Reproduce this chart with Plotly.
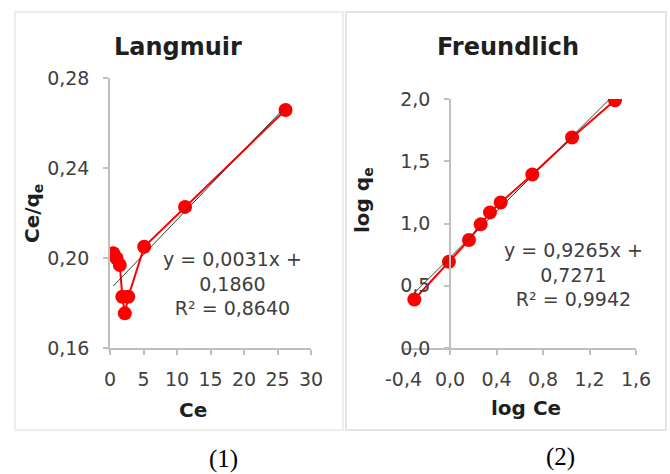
import plotly.graph_objects as go

# ---- data ----
lang_ce = [0.49, 0.98, 1.46, 1.84, 2.21, 2.73, 5.1, 11.2, 26.2]
lang_ce_qe = [0.2021, 0.1999, 0.1969, 0.1828, 0.1754, 0.1828, 0.2050, 0.2227, 0.2658]
lang_slope, lang_intercept = 0.0031, 0.1860

freu_logce = [-0.307, -0.009, 0.163, 0.264, 0.344, 0.436, 0.708, 1.05, 1.419]
freu_logqe = [0.39, 0.693, 0.867, 0.993, 1.089, 1.169, 1.394, 1.691, 1.99]
freu_slope, freu_intercept = 0.9265, 0.7271

lang_xticks = [0, 5, 10, 15, 20, 25, 30]
lang_xtext = ["0", "5", "10", "15", "20", "25", "30"]
lang_yticks = [0.16, 0.20, 0.24, 0.28]
lang_ytext = ["0,16", "0,20", "0,24", "0,28"]
freu_xticks = [-0.4, 0.0, 0.4, 0.8, 1.2, 1.6]
freu_xtext = ["-0,4", "0,0", "0,4", "0,8", "1,2", "1,6"]
freu_yticks = [0.0, 0.5, 1.0, 1.5, 2.0]
freu_ytext = ["0,0", "0,5", "1,0", "1,5", "2,0"]

W, H = 670, 474
def px(x):
    return x / W
def py(y):
    return 1 - y / H

RED = "#ff0000"
TREND = "#3a3a3a"
AX = "#bfbfbf"
TXT = "#404040"
FONT = "DejaVu Sans"

fig = go.Figure()

# Langmuir
fig.add_trace(go.Scatter(x=lang_ce, y=lang_ce_qe, mode="lines+markers",
                         line=dict(color=RED, width=2),
                         marker=dict(color=RED, size=14),
                         xaxis="x", yaxis="y", showlegend=False))
lx = [min(lang_ce), max(lang_ce)]
fig.add_trace(go.Scatter(x=lx, y=[lang_slope * v + lang_intercept for v in lx],
                         mode="lines", line=dict(color=TREND, width=1),
                         xaxis="x", yaxis="y", showlegend=False))

# Freundlich
fig.add_trace(go.Scatter(x=freu_logce, y=freu_logqe, mode="lines+markers",
                         line=dict(color=RED, width=2),
                         marker=dict(color=RED, size=14),
                         xaxis="x2", yaxis="y2", showlegend=False))
fx = [min(freu_logce), max(freu_logce)]
fig.add_trace(go.Scatter(x=fx, y=[freu_slope * v + freu_intercept for v in fx],
                         mode="lines", line=dict(color=TREND, width=1),
                         xaxis="x2", yaxis="y2", showlegend=False))

axis_common = dict(showline=True, linecolor=AX, linewidth=1.5, showgrid=False,
                   zeroline=False, ticks="outside", ticklen=5, tickcolor=AX,
                   tickwidth=1.5, automargin=False,
                   tickfont=dict(family=FONT, size=19, color=TXT))

fig.update_layout(
    width=W, height=H, autosize=False,
    margin=dict(l=0, r=0, t=0, b=0, pad=0),
    paper_bgcolor="white", plot_bgcolor="rgba(0,0,0,0)",
    hovermode=False,
    xaxis=dict(domain=[px(110), px(311)], range=[0, 30], anchor="y",
               tickmode="array", tickvals=lang_xticks, ticktext=lang_xtext,
               ticklabelstandoff=8, **axis_common),
    yaxis=dict(domain=[py(348), py(78)], range=[0.16, 0.28], anchor="x",
               tickmode="array", tickvals=lang_yticks, ticktext=lang_ytext,
               ticklabelstandoff=10, **axis_common),
    xaxis2=dict(domain=[px(403.5), px(636)], range=[-0.4, 1.6], anchor="y2",
                tickmode="array", tickvals=freu_xticks, ticktext=freu_xtext,
                ticklabelstandoff=8, **axis_common),
    yaxis2=dict(domain=[py(348), py(99)], range=[0, 2.0], anchor="free",
                position=px(450),
                tickmode="array", tickvals=freu_yticks, ticktext=freu_ytext,
                ticklabelstandoff=10, **axis_common),
    shapes=[
        dict(type="rect", xref="paper", yref="paper",
             x0=px(15), x1=px(343), y0=py(430), y1=py(12),
             line=dict(color="#efeee6", width=2), layer="below"),
        dict(type="rect", xref="paper", yref="paper",
             x0=px(346), x1=px(666), y0=py(430), y1=py(12),
             line=dict(color="#e4e4e4", width=2), layer="below"),
    ],
)

def ann(x, y, text, size, bold=False, angle=0, family=FONT, color="#1f1f1f"):
    fig.add_annotation(x=px(x), y=py(y), xref="paper", yref="paper",
                       text=("<b>%s</b>" % text) if bold else text,
                       showarrow=False, textangle=angle,
                       xanchor="center", yanchor="middle", align="center",
                       font=dict(family=family, size=size, color=color))

ann(178, 47, "Langmuir", 24, bold=True)
ann(508, 47, "Freundlich", 24, bold=True)
ann(193, 410, "Ce", 20, bold=True)
ann(526, 408, "log Ce", 20, bold=True)
ann(33, 214, "Ce/q<sub>e</sub>", 20, bold=True, angle=-90)
ann(363, 200, "log q<sub>e</sub>", 20, bold=True, angle=-90)
ann(232, 283, "y = 0,0031x +<br>0,1860<br>R² = 0,8640", 19, color=TXT)
ann(573, 274, "y = 0,9265x +<br>0,7271<br>R² = 0,9942", 19, color=TXT)
ann(223, 459, "(1)", 25, family="Liberation Serif", color="#000000")
ann(560, 457, "(2)", 25, family="Liberation Serif", color="#000000")

fig.write_html("out.html", config={"displayModeBar": False},
               post_script="document.body.style.margin='0';document.body.style.overflow='hidden';")
